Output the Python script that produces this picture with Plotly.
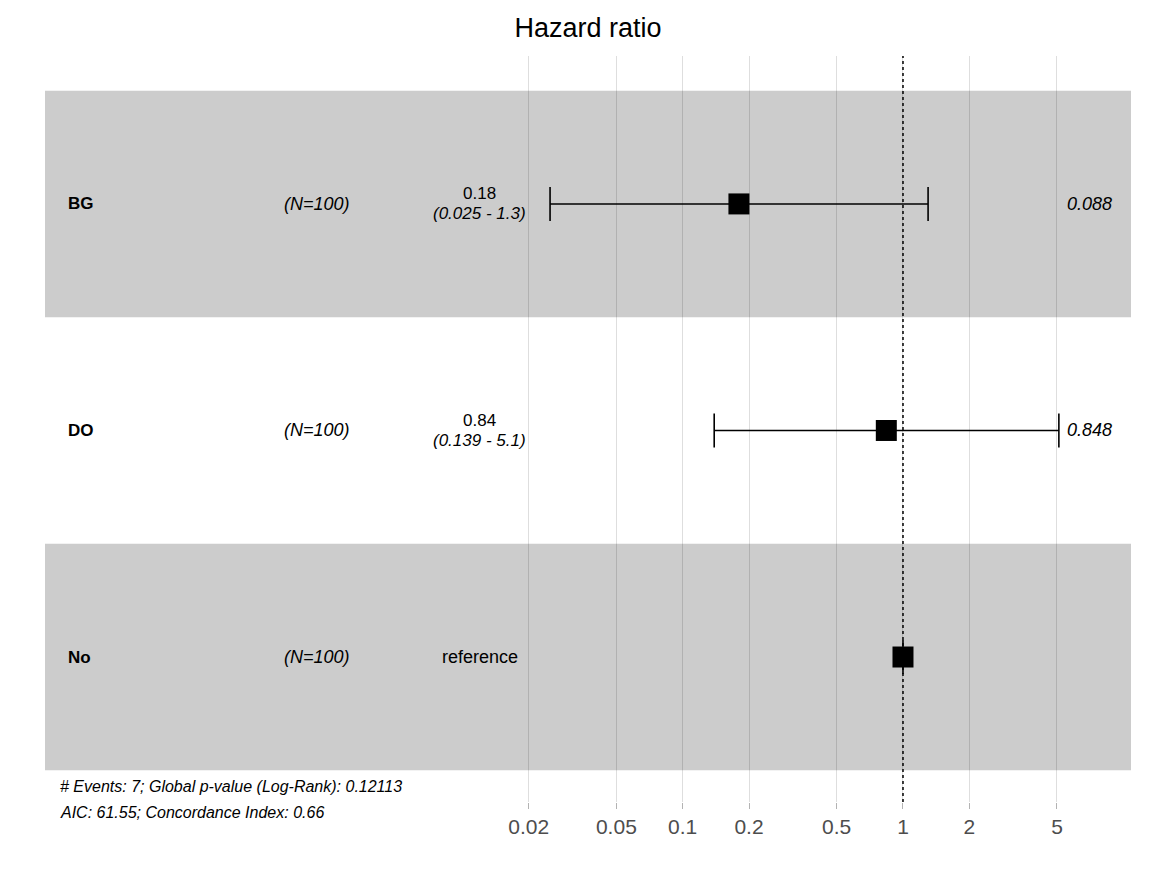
import plotly.graph_objects as go

# ---------------- data ----------------
row_labels = ["BG", "DO", "No"]
row_n = [100, 100, 100]
hr_est = [0.18, 0.84, 1.0]
hr_low = [0.025, 0.139, 1.0]
hr_high = [1.3, 5.1, 1.0]
hr_text = ["0.18", "0.84", "reference"]
ci_text = ["(0.025 - 1.3)", "(0.139 - 5.1)", ""]
p_text = ["0.088", "0.848", ""]
tick_vals = [0.02, 0.05, 0.1, 0.2, 0.5, 1, 2, 5]
tick_text = ["0.02", "0.05", "0.1", "0.2", "0.5", "1", "2", "5"]
footer_lines = [
    "# Events: 7; Global p-value (Log-Rank): 0.12113",
    "AIC: 61.55; Concordance Index: 0.66",
]
title_text = "Hazard ratio"

FONT = "Liberation Sans, Arial, Helvetica, sans-serif"
PAGE_OFF = 8                      # default body margin of the html page
W, H = 1172 - PAGE_OFF, 881 - PAGE_OFF
ML, MR, MT, MB = 45 - PAGE_OFF, 41, 56 - PAGE_OFF, 79
plot_w = W - ML - MR
plot_h = H - MT - MB

nrows = len(row_labels)
ypos = [nrows - i for i in range(nrows)]  # BG=3, DO=2, No=1

fig = go.Figure()

# estimate points with CI
fig.add_trace(go.Scatter(
    x=hr_est,
    y=ypos,
    mode="markers",
    marker=dict(symbol="square", size=21, color="black", line=dict(width=0)),
    error_x=dict(
        type="data",
        symmetric=False,
        array=[h - e for h, e in zip(hr_high, hr_est)],
        arrayminus=[e - l for e, l in zip(hr_est, hr_low)],
        color="black",
        thickness=1.6,
        width=17,
    ),
    showlegend=False,
    hoverinfo="skip",
))

shapes = []
# alternating gray bands
for i, y in enumerate(ypos):
    if i % 2 == 0:
        shapes.append(dict(type="rect", xref="paper", yref="y", x0=0, x1=1,
                           y0=y - 0.5, y1=y + 0.5, fillcolor="#cccccc",
                           line=dict(width=0), layer="below"))
# reference dotted line at HR = 1
shapes.append(dict(type="line", xref="x", yref="paper", x0=1, x1=1, y0=0, y1=1,
                   line=dict(color="black", width=1.5, dash="dot"), layer="above"))


def px_to_paper_x(px):
    return (px - PAGE_OFF - ML) / plot_w


def px_to_paper_y(py):
    return (H - MB - (py - PAGE_OFF)) / plot_h


annotations = []
for i, y in enumerate(ypos):
    annotations.append(dict(x=px_to_paper_x(66), y=y, xref="paper", yref="y",
                            text="<b>" + row_labels[i] + "</b>", showarrow=False,
                            xanchor="left", yanchor="middle",
                            font=dict(family=FONT, size=17, color="black")))
    annotations.append(dict(x=px_to_paper_x(317), y=y, xref="paper", yref="y",
                            text="<i>(N=" + str(row_n[i]) + ")</i>", showarrow=False,
                            xanchor="center", yanchor="middle",
                            font=dict(family=FONT, size=18, color="black")))
    if ci_text[i]:
        annotations.append(dict(x=px_to_paper_x(479), y=y, xref="paper", yref="y",
                                text=hr_text[i], showarrow=False, yshift=10,
                                xanchor="center", yanchor="middle",
                                font=dict(family=FONT, size=17, color="black")))
        annotations.append(dict(x=px_to_paper_x(479), y=y, xref="paper", yref="y",
                                text="<i>" + ci_text[i] + "</i>", showarrow=False, yshift=-10,
                                xanchor="center", yanchor="middle",
                                font=dict(family=FONT, size=17, color="black")))
    else:
        annotations.append(dict(x=px_to_paper_x(480), y=y, xref="paper", yref="y",
                                text=hr_text[i], showarrow=False,
                                xanchor="center", yanchor="middle",
                                font=dict(family=FONT, size=18, color="black")))
    if p_text[i]:
        annotations.append(dict(x=px_to_paper_x(1114), y=y, xref="paper", yref="y",
                                text="<i>" + p_text[i] + "</i>", showarrow=False,
                                xanchor="right", yanchor="middle",
                                font=dict(family=FONT, size=18, color="black")))

for j, line in enumerate(footer_lines):
    ypx = 786 + 26 * j
    annotations.append(dict(x=px_to_paper_x(58), y=px_to_paper_y(ypx),
                            xref="paper", yref="paper",
                            text="<i>" + line + "</i>", showarrow=False,
                            xanchor="left", yanchor="middle",
                            font=dict(family=FONT, size=16, color="black")))

fig.update_layout(
    width=W, height=H, autosize=False,
    margin=dict(l=ML, r=MR, t=MT, b=MB, pad=0),
    paper_bgcolor="white", plot_bgcolor="white",
    title=dict(text=title_text, x=(588 - PAGE_OFF) / W, xref="container", xanchor="center",
               y=1 - (28 - PAGE_OFF) / H, yref="container", yanchor="middle",
               font=dict(family=FONT, size=27, color="black")),
    shapes=shapes,
    annotations=annotations,
    xaxis=dict(
        type="log",
        range=[-3.8947, 1.035],
        tickvals=tick_vals,
        ticktext=tick_text,
        showgrid=True,
        gridcolor="rgba(0,0,0,0.13)",
        gridwidth=1,
        ticks="outside",
        ticklen=6,
        tickcolor="#b3b3b3",
        tickwidth=1,
        tickfont=dict(family=FONT, size=21, color="#4d4d4d"),
        showline=False,
        zeroline=False,
        ticklabelstandoff=0,
    ),
    yaxis=dict(
        range=[0.36, 3.653],
        showgrid=False,
        showticklabels=False,
        ticks="",
        zeroline=False,
        showline=False,
    ),
)

fig.write_html("out.html")
